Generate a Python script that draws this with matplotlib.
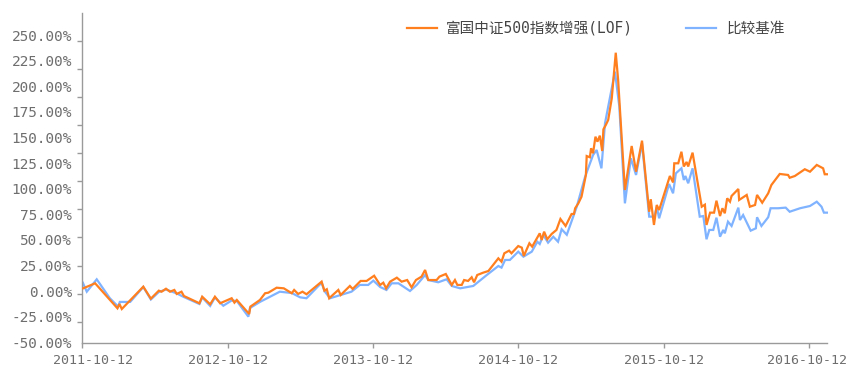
import numpy as np
import pandas as pd
import matplotlib
matplotlib.use('Agg')
import matplotlib.pyplot as plt
from matplotlib.ticker import FixedLocator, NullFormatter
from matplotlib.transforms import ScaledTranslation
from matplotlib.lines import Line2D

# ---------------- data ----------------
start_date = '2011-10-12'
series_names = ['富国中证500指数增强(LOF)', '比较基准']

# days since 2011-10-12, cumulative return in %
fund_days = [3, 33, 89, 94, 100, 154, 173, 193, 200, 211, 221, 232, 238, 250, 256, 295, 302, 322, 334, 347,
             376, 383, 389, 420, 423, 447, 460, 468, 489, 507, 527, 533, 543, 554, 564, 602, 609, 615, 621,
             644, 650, 673, 680, 700, 715, 734, 749, 757, 764, 774, 791, 803, 817, 828, 839, 853, 862, 870,
             891, 898, 914, 929, 937, 943, 954, 960, 970, 979, 985, 993, 1008, 1021, 1046, 1054, 1061, 1073,
             1079, 1096, 1105, 1110, 1124, 1131, 1150, 1155, 1161, 1169, 1180, 1192, 1202, 1215, 1230, 1236,
             1239, 1247, 1255, 1266, 1268, 1276, 1279, 1284, 1290, 1295, 1301, 1307, 1310, 1316, 1322, 1331,
             1341, 1347, 1364, 1381, 1392, 1407, 1425, 1429, 1437, 1444, 1450, 1477, 1485, 1488, 1498, 1506,
             1512, 1519, 1523, 1534, 1557, 1565, 1569, 1578, 1588, 1594, 1603, 1609, 1615, 1621, 1628, 1632,
             1649, 1651, 1670, 1678, 1691, 1696, 1709, 1724, 1732, 1753, 1774, 1778, 1791, 1816, 1829, 1846,
             1862, 1866, 1875]
fund_return = [2.7, 7.6, -16.8, -12.6, -17.5, 4.3, -7.4, 0.4, -0.6, 2.3, -0.6, 1.1, -2.8, -0.6, -4.8, -11.9,
               -5.5, -12.9, -5.5, -11.9, -7.0, -11.3, -8.7, -22.4, -15.2, -8.7, -2.1, -1.6, 3.3, 2.7, -2.1,
               1.1, -2.8, -0.6, -3.1, 9.2, 0.4, 1.8, -7.0, 1.1, -3.8, 5.0, 2.1, 9.9, 9.9, 15.0, 6.0, 8.2, 2.7,
               9.2, 13.1, 9.2, 10.8, 3.7, 10.8, 14.1, 20.6, 10.8, 10.8, 14.1, 16.7, 6.0, 10.8, 6.0, 6.0, 10.8,
               9.9, 13.5, 8.6, 15.7, 18.0, 19.6, 32.0, 28.7, 36.9, 39.5, 36.9, 44.0, 42.4, 34.3, 46.7, 43.4,
               56.4, 49.9, 58.0, 50.6, 55.8, 59.7, 70.4, 63.6, 75.3, 75.3, 80.9, 85.7, 92.2, 113.4, 131.9,
               130.7, 139.5, 134.6, 150.8, 145.9, 151.8, 136.8, 158.0, 162.2, 167.1, 188.3, 232.8, 206.2, 98.7,
               141.7, 116.6, 146.9, 77.5, 89.7, 64.6, 84.1, 79.2, 112.4, 106.1, 124.8, 124.8, 136.1, 121.7,
               126.1, 121.7, 135.2, 82.4, 84.4, 64.6, 76.6, 76.6, 88.3, 73.3, 80.9, 76.0, 90.6, 87.3, 92.9,
               99.7, 89.0, 93.9, 82.4, 84.1, 93.9, 86.3, 95.5, 103.6, 114.4, 113.4, 110.7, 112.4, 119.0, 116.6,
               123.2, 119.9, 114.1, 114.1]

bench_days = [2, 12, 37, 70, 91, 95, 121, 154, 173, 193, 211, 238, 256, 295, 302, 322, 334, 355, 376, 389,
              418, 422, 447, 497, 527, 548, 564, 602, 609, 623, 677, 698, 719, 732, 749, 765, 778, 795, 824,
              841, 862, 870, 895, 916, 929, 950, 983, 1017, 1046, 1054, 1063, 1075, 1096, 1109, 1130, 1144,
              1150, 1159, 1171, 1184, 1196, 1205, 1218, 1243, 1264, 1284, 1293, 1305, 1314, 1339, 1350, 1364,
              1379, 1392, 1407, 1425, 1438, 1444, 1450, 1475, 1485, 1492, 1506, 1512, 1516, 1523, 1534, 1552,
              1561, 1569, 1576, 1586, 1594, 1603, 1611, 1615, 1623, 1632, 1649, 1653, 1661, 1680, 1693, 1696,
              1707, 1724, 1730, 1749, 1768, 1778, 1804, 1829, 1846, 1858, 1864, 1875]
bench_return = [8.2, -0.6, 11.5, -7.0, -15.2, -10.6, -10.6, 4.0, -8.2, -0.9, 1.6, -2.3, -5.8, -12.6, -6.2,
                -14.5, -6.2, -14.3, -9.2, -9.7, -25.0, -16.5, -10.6, -0.6, -1.9, -6.1, -7.0, 8.2, 0.1, -7.0,
                -0.6, 6.0, 6.0, 10.2, 4.0, 1.1, 7.6, 7.6, 0.1, 6.0, 15.7, 10.8, 8.6, 11.5, 5.0, 2.7, 5.0, 15.7,
                24.5, 22.9, 30.4, 30.4, 38.5, 33.6, 38.5, 48.2, 46.0, 54.8, 47.3, 53.1, 48.2, 60.4, 55.0, 82.4,
                111.7, 132.9, 137.8, 119.9, 163.9, 214.3, 180.1, 85.7, 129.7, 113.4, 144.3, 72.7, 72.7, 82.4,
                71.1, 104.6, 95.5, 115.0, 119.9, 108.5, 112.4, 105.3, 119.9, 72.7, 73.3, 50.6, 59.7, 59.7, 71.7,
                53.1, 59.7, 56.4, 67.8, 63.6, 81.5, 69.4, 74.3, 59.0, 61.3, 72.1, 63.6, 72.1, 80.9, 80.9, 81.5,
                77.5, 80.9, 83.1, 87.3, 82.4, 76.6, 76.6]

x_tick_labels = ['2011-10-12', '2012-10-12', '2013-10-12', '2014-10-12', '2015-10-12', '2016-10-12']
y_tick_values = [-50, -25, 0, 25, 50, 75, 100, 125, 150, 175, 200, 225, 250]

# ---------------- style ----------------
ORANGE = '#ff7f1f'
BLUE = '#80b3ff'
AXIS_GREY = '#9a9a9a'
LABEL_GREY = '#6e6e6e'
MONO = ['DejaVu Sans Mono', 'Noto Sans CJK SC']
plt.rcParams['font.family'] = MONO

W, H = 849, 374
fig = plt.figure(figsize=(W / 100, H / 100), dpi=100)
ax_left, ax_right, ax_bottom, ax_top = 82, 827.5, 343.3, 13.3
ax = fig.add_axes([ax_left / W, 1 - ax_bottom / H, (ax_right - ax_left) / W, (ax_bottom - ax_top) / H])

t0 = pd.Timestamp(start_date)
fund_x = (t0 + pd.to_timedelta(fund_days, unit='D')).to_numpy()
bench_x = (t0 + pd.to_timedelta(bench_days, unit='D')).to_numpy()

ax.plot(bench_x, bench_return, color=BLUE, lw=1.6, solid_joinstyle='miter', zorder=2)
ax.plot(fund_x, fund_return, color=ORANGE, lw=1.6, solid_joinstyle='miter', zorder=3)

ax.set_xlim(t0.to_datetime64(), (t0 + pd.Timedelta(days=1873)).to_datetime64())
ax.set_ylim(-51, 271.3)

for s in ['top', 'right']:
    ax.spines[s].set_visible(False)
for s in ['left', 'bottom']:
    ax.spines[s].set_color(AXIS_GREY)
    ax.spines[s].set_linewidth(1.0)

# x ticks
xt = pd.to_datetime(x_tick_labels).to_numpy()
ax.set_xticks(xt)
ax.set_xticklabels(x_tick_labels)
ax.tick_params(axis='x', direction='out', length=3.6, width=1.0, color=AXIS_GREY,
               labelcolor=LABEL_GREY, labelsize=9.5, pad=3.8)

# y labels (major, no marks) and the separate tick marks (minor)
ax.set_yticks(y_tick_values)
ax.set_yticklabels([f'{v:.2f}%' for v in y_tick_values])
ax.tick_params(axis='y', which='major', length=0, labelcolor=LABEL_GREY, labelsize=10.4, pad=7.2)
ax.yaxis.set_minor_locator(FixedLocator(list(np.arange(-29.9, 250, 27.44))))
ax.yaxis.set_minor_formatter(NullFormatter())
ax.tick_params(axis='y', which='minor', direction='out', length=3.6, width=1.0, color=AXIS_GREY)

fig.canvas.draw()
first = ax.get_xticklabels()[0]
first.set_transform(first.get_transform() + ScaledTranslation(0.115, 0, fig.dpi_scale_trans))
last = ax.get_xticklabels()[-1]
last.set_transform(last.get_transform() + ScaledTranslation(-0.02, 0, fig.dpi_scale_trans))

# legend (manual placement)
ly = 1 - 28 / H
fig.add_artist(Line2D([406.7 / W, 436.7 / W], [ly, ly], transform=fig.transFigure, color=ORANGE, lw=1.6))
fig.text(445.7 / W, ly, series_names[0], fontsize=10.5, color='#444444', va='center', ha='left', family=MONO)
fig.add_artist(Line2D([686 / W, 716 / W], [ly, ly], transform=fig.transFigure, color=BLUE, lw=1.6))
fig.text(726.7 / W, ly, series_names[1], fontsize=10.5, color='#444444', va='center', ha='left', family=MONO)

fig.savefig('out.png', dpi=100)
